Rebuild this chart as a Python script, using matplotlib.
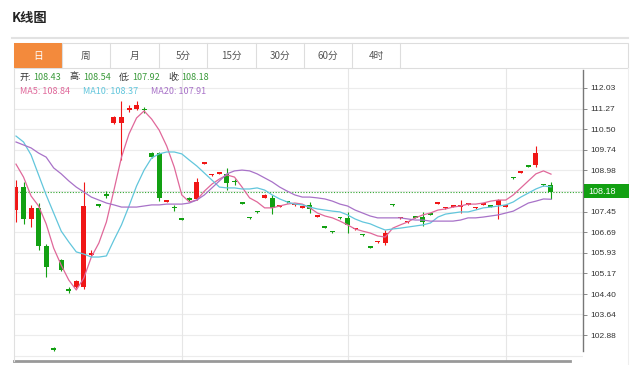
import numpy as np
import matplotlib
matplotlib.use("Agg")
import matplotlib.pyplot as plt
from matplotlib.patches import Rectangle

plt.rcParams['font.family'] = ['Noto Sans CJK SC', 'DejaVu Sans']

# daily candles (oldest -> newest)
opens = [107.51, 108.36, 107.18, 107.59, 106.18, 102.40, 105.66, 104.58, 104.66, 104.66,
         105.84, 107.72, 108.10, 110.73, 110.73, 111.22, 111.25, 111.25, 109.62, 109.62,
         107.81, 107.62, 107.20, 107.96, 107.92, 109.23, 108.79, 108.86, 108.85, 108.57,
         107.79, 107.24, 107.46, 107.96, 107.96, 107.64, 107.83, 107.68, 107.60, 107.70,
         107.27, 106.90, 106.72, 107.24, 107.22, 106.79, 106.61, 106.16, 106.31, 106.29,
         107.72, 107.20, 107.05, 107.27, 107.25, 107.38, 107.75, 107.57, 107.64, 107.64,
         107.71, 107.57, 107.71, 107.68, 107.70, 107.62, 108.72, 108.90, 109.16, 109.18,
         108.46, 108.43]
highs = [108.62, 108.55, 107.70, 107.77, 106.25, 102.45, 105.70, 104.66, 104.92, 108.55,
         106.03, 107.75, 108.20, 110.98, 111.55, 111.40, 111.55, 111.32, 109.66, 109.66,
         107.90, 107.70, 107.21, 107.98, 108.70, 109.29, 108.85, 108.92, 109.07, 108.66,
         107.80, 107.25, 107.47, 108.09, 108.07, 107.70, 107.85, 107.74, 107.66, 107.81,
         107.33, 106.91, 106.73, 107.25, 107.44, 106.85, 106.62, 106.17, 106.37, 106.77,
         107.73, 107.26, 107.11, 107.28, 107.44, 107.39, 107.81, 107.63, 107.70, 107.88,
         107.77, 107.63, 107.77, 107.69, 107.92, 107.72, 108.73, 108.96, 109.17, 109.88,
         108.47, 108.54]
lows = [107.07, 107.00, 106.88, 106.03, 105.03, 102.28, 105.25, 104.44, 104.62, 104.59,
        105.80, 107.64, 107.95, 110.71, 109.36, 111.14, 111.22, 111.12, 109.44, 107.84,
        107.79, 107.48, 107.14, 107.86, 107.90, 109.22, 108.78, 108.85, 108.25, 108.42,
        107.74, 107.19, 107.41, 107.95, 107.36, 107.62, 107.78, 107.67, 107.59, 107.40,
        107.26, 106.85, 106.67, 107.19, 106.66, 106.78, 106.56, 106.11, 106.30, 106.22,
        107.67, 107.19, 107.04, 107.22, 106.92, 107.33, 107.74, 107.56, 107.63, 107.40,
        107.70, 107.56, 107.70, 107.63, 107.18, 107.61, 108.67, 108.89, 109.11, 109.10,
        108.41, 107.92]
closes = [108.36, 107.18, 107.59, 106.18, 105.40, 102.33, 105.29, 104.52, 104.88, 107.66,
          105.92, 107.66, 108.04, 110.96, 110.96, 111.29, 111.40, 111.20, 109.47, 107.96,
          107.88, 107.57, 107.15, 107.88, 108.55, 109.27, 108.83, 108.90, 108.51, 108.53,
          107.75, 107.20, 107.42, 108.07, 107.59, 107.68, 107.79, 107.72, 107.64, 107.55,
          107.31, 106.86, 106.68, 107.20, 106.96, 106.83, 106.57, 106.12, 106.35, 106.66,
          107.68, 107.24, 107.09, 107.23, 107.07, 107.34, 107.79, 107.61, 107.68, 107.68,
          107.75, 107.61, 107.75, 107.64, 107.88, 107.70, 108.68, 108.94, 109.12, 109.62,
          108.42, 108.18]

ma5 = [109.21, 108.73, 108.03, 107.66, 107.00, 106.10, 105.47, 104.92, 104.55, 104.99,
       105.77, 106.29, 107.07, 108.25, 109.47, 110.33, 110.92, 111.18, 110.88, 110.47,
       109.88, 109.10, 108.07, 107.81, 107.88, 108.21, 108.47, 108.66, 108.81, 108.73,
       108.36, 107.96, 107.81, 107.59, 107.59, 107.66, 107.73, 107.77, 107.73, 107.59,
       107.40, 107.29, 107.22, 107.10, 106.96, 106.81, 106.73, 106.66, 106.55, 106.51,
       106.84, 106.96, 107.07, 107.22, 107.33, 107.40, 107.51, 107.55, 107.62, 107.66,
       107.73, 107.73, 107.77, 107.84, 107.88, 107.88, 108.07, 108.33, 108.59, 108.85,
       108.96, 108.84]
ma10 = [110.25, 110.03, 109.55, 108.81, 108.07, 107.40, 106.73, 106.33, 105.96, 105.88,
        105.77, 105.77, 105.81, 106.40, 106.96, 107.66, 108.40, 108.99, 109.44, 109.59,
        109.66, 109.66, 109.59, 109.36, 109.14, 108.88, 108.62, 108.36, 108.33, 108.33,
        108.29, 108.29, 108.33, 108.25, 108.07, 107.92, 107.81, 107.73, 107.70, 107.62,
        107.55, 107.51, 107.47, 107.44, 107.33, 107.18, 107.07, 107.00, 106.88, 106.77,
        106.81, 106.84, 106.88, 106.92, 106.96, 107.03, 107.25, 107.36, 107.40, 107.44,
        107.44, 107.51, 107.59, 107.62, 107.66, 107.70, 107.81, 107.99, 108.14, 108.29,
        108.40, 108.37]
ma20 = [110.03, 109.92, 109.81, 109.62, 109.47, 109.07, 108.85, 108.59, 108.36, 108.18,
        107.99, 107.88, 107.77, 107.70, 107.62, 107.62, 107.62, 107.66, 107.70, 107.70,
        107.73, 107.73, 107.73, 107.77, 107.88, 108.07, 108.33, 108.59, 108.85, 108.96,
        108.99, 108.96, 108.85, 108.70, 108.55, 108.36, 108.21, 108.07, 107.99, 107.99,
        107.96, 107.92, 107.84, 107.73, 107.66, 107.51, 107.40, 107.29, 107.22, 107.22,
        107.22, 107.22, 107.18, 107.14, 107.14, 107.10, 107.10, 107.10, 107.10, 107.14,
        107.22, 107.22, 107.25, 107.29, 107.33, 107.40, 107.47, 107.62, 107.77, 107.84,
        107.92, 107.91]

y_ticks = [112.03, 111.27, 110.50, 109.74, 108.98, 108.21, 107.45, 106.69, 105.93,
           105.17, 104.40, 103.64, 102.88]
tab_labels = ['日', '周', '月', '5分', '15分', '30分', '60分', '4时']
info_labels = ['开:', '高:', '低:', '收:']
info_values = ['108.43', '108.54', '107.92', '108.18']
ma_labels = ['MA5: 108.84', 'MA10: 108.37', 'MA20: 107.91']
last_price = 108.18

RED = '#f01616'
GREEN = '#12a012'
C_MA5 = '#e0689a'
C_MA10 = '#62c6dc'
C_MA20 = '#a872c8'

fig = plt.figure(figsize=(6.4, 3.65), dpi=100)
fig.patch.set_facecolor('white')

# main price axes, pixel box x 14..583, y 68..361
ax = fig.add_axes([14 / 640, 4 / 365, 569 / 640, 293 / 365])
ax.set_xlim(-0.265, 75.25)
ax.set_ylim(101.92, 112.77)
ax.set_facecolor('white')

for k in range(-1, 14):
    ax.axhline(y_ticks[0] - k * 0.7625, color='#ececec', lw=0.8, zorder=0)
for xv in [22, 44, 65]:
    ax.axvline(xv, color='#e6e6e6', lw=0.8, zorder=0)

idx = np.arange(len(closes))
for i in idx:
    o, h, l, c = opens[i], highs[i], lows[i], closes[i]
    col = RED if c >= o else GREEN
    ax.vlines(i, l, h, color=col, lw=0.8, zorder=2)
    ax.bar(i, max(abs(c - o), 0.07), bottom=min(o, c), width=0.66, color=col,
           linewidth=0, zorder=3)

ax.plot(idx, ma5, color=C_MA5, lw=0.9, zorder=4)
ax.plot(idx, ma10, color=C_MA10, lw=0.9, zorder=4)
ax.plot(idx, ma20, color=C_MA20, lw=0.9, zorder=4)

ax.axhline(last_price, color='#2fa82f', lw=0.8, ls=(0, (1, 1.5)), zorder=1)

# the 108.21 label sits under the last-price box, so leave it blank
tick_text = ['' if v == 108.21 else f'{v:.2f}' for v in y_ticks]
ax.yaxis.tick_right()
ax.set_yticks(y_ticks)
ax.set_yticklabels(tick_text, fontsize=6,
                   family=['Liberation Sans', 'DejaVu Sans'], color='#333333')
ax.tick_params(axis='y', length=3, width=0.6, color='#777777', pad=2)
ax.set_xticks([])
for s in ['top', 'left']:
    ax.spines[s].set_visible(False)
ax.spines['right'].set_color('#777777')
ax.spines['right'].set_linewidth(1)
ax.spines['right'].set_bounds(102.3, 112.7)
ax.spines['bottom'].set_color('#999999')
ax.spines['bottom'].set_linewidth(2)
ax.spines['bottom'].set_bounds(-0.265, 73.5)

# overlay in pixel coordinates for the page furniture
ov = fig.add_axes([0, 0, 1, 1])
ov.set_xlim(0, 640)
ov.set_ylim(365, 0)
ov.set_axis_off()

ov.text(12, 18, 'K线图', fontsize=9.5, fontweight='bold', color='#222222', va='center')
ov.plot([12, 628], [38, 38], color='#e2e2e2', lw=1.5)

ov.add_patch(Rectangle((14, 43), 614, 25, fc='white', ec='#dddddd', lw=0.8))
ov.add_patch(Rectangle((14, 43), 48, 25, fc='#f38a3c', ec='none'))
edges = [14, 62, 110, 159, 207, 256, 304, 352, 400]
for xe in edges[1:]:
    ov.plot([xe, xe], [43, 68], color='#dddddd', lw=0.8)
for j, lab in enumerate(tab_labels):
    cx = (edges[j] + edges[j + 1]) / 2
    ov.text(cx, 56, lab, fontsize=7, ha='center', va='center',
            color='white' if j == 0 else '#555555')
ov.plot([14, 14], [68, 361], color='#e0e0e0', lw=0.8)
ov.plot([628, 628], [68, 365], color='#eeeeee', lw=0.8)

info_x = [20, 70, 119, 168]
for lab, val, xx in zip(info_labels, info_values, info_x):
    ov.text(xx, 77, lab, fontsize=6.5, color='#333333', va='center')
    ov.text(xx + 13, 77, val, fontsize=6.5, color='#3a9a3a', va='center')
for lab, xx, col in zip(ma_labels, [20, 83, 151], [C_MA5, C_MA10, C_MA20]):
    ov.text(xx, 91, lab, fontsize=6.5, color=col, va='center')

ov.add_patch(Rectangle((584, 184), 45, 14, fc='#12a012', ec='none', zorder=5))
ov.text(588, 191.5, f'{last_price:.2f}', fontsize=6.5, color='white', va='center',
        family=['Liberation Sans', 'DejaVu Sans'], zorder=6)

fig.savefig('out.png', dpi=100)
